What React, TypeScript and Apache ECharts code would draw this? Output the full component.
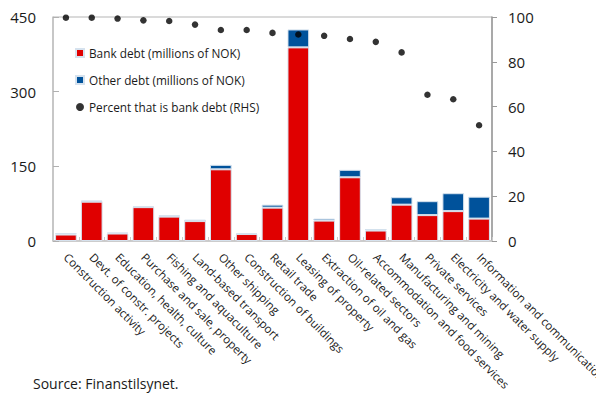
import React, { useEffect, useRef } from "react";
import * as echarts from "echarts";

const categories = [
  "Construction activity",
  "Devt. of constr. projects",
  "Education, health, culture",
  "Purchase and sale, property",
  "Fishing and aquaculture",
  "Land-based transport",
  "Other shipping",
  "Construction of buildings",
  "Retail trade",
  "Leasing of property",
  "Extraction of oil and gas",
  "Oil-related sectors",
  "Accommodation and food services",
  "Manufacturing and mining",
  "Private services",
  "Electricity and water supply",
  "Information and communication",
];
const bankDebt = [13, 79, 15, 68, 49, 40, 144, 14, 67, 389, 41, 128, 21, 73, 52, 60, 45];
const otherDebt = [2.5, 2.5, 2, 2, 2.5, 3, 9, 2, 6, 36, 4, 15, 3, 15, 28, 36, 44];
const percentBank = [99.7, 99.7, 99.3, 98.5, 98.2, 96.6, 94.2, 94.2, 92.9, 92.2, 91.6, 90.2, 88.9, 84.2, 65.3, 63.3, 51.7];
const leftTicks = { min: 0, max: 450, interval: 150 };
const rightTicks = { min: 0, max: 100, interval: 20 };

const FONT = "'Open Sans', 'Noto Sans', sans-serif";

export default function App() {
  const ref = useRef<HTMLDivElement>(null);
  useEffect(() => {
    if (!ref.current) return;
    const chart = echarts.init(ref.current, undefined, { renderer: "svg" });
    chart.setOption({
      animation: false,
      textStyle: { fontFamily: FONT, color: "#1a1a1a" },
      grid: {
        left: 53,
        right: 104,
        top: 17,
        bottom: 153,
        containLabel: false,
        outerBoundsMode: "none",
        show: true,
        borderColor: "#b5b5b5",
        borderWidth: 1,
      },
      legend: {
        orient: "vertical",
        left: 70,
        top: 41,
        itemWidth: 8,
        itemHeight: 8,
        itemGap: 13,
        textStyle: { fontFamily: FONT, fontSize: 11.8, color: "#1a1a1a", lineHeight: 14 },
        data: [
          { name: "Bank debt (millions of NOK)", icon: "rect" },
          { name: "Other debt (millions of NOK)", icon: "rect" },
          { name: "Percent that is bank debt (RHS)", icon: "circle" },
        ],
      },
      xAxis: {
        type: "category",
        data: categories,
        axisLine: { show: true, lineStyle: { color: "#c8c8c8", width: 1.5 } },
        axisTick: { show: true, inside: true, length: 4, lineStyle: { color: "#c8c8c8" } },
        axisLabel: {
          rotate: -45,
          interval: 0,
          margin: 14,
          fontFamily: FONT,
          fontSize: 11.6,
          color: "#1a1a1a",
        },
      },
      yAxis: [
        {
          type: "value",
          ...leftTicks,
          splitLine: { show: false },
          axisLine: { show: true, lineStyle: { color: "#c0c0c0", width: 1.5 } },
          axisTick: { show: true, inside: true, length: 6, lineStyle: { color: "#b0b0b0" } },
          axisLabel: { margin: 17, fontFamily: FONT, fontSize: 15, color: "#1a1a1a" },
        },
        {
          type: "value",
          ...rightTicks,
          position: "right",
          splitLine: { show: false },
          axisLine: { show: true, lineStyle: { color: "#999999", width: 1.5 } },
          axisTick: { show: true, inside: false, length: 5, lineStyle: { color: "#999999" } },
          axisLabel: { margin: 16, fontFamily: FONT, fontSize: 15, color: "#1a1a1a" },
        },
      ],
      series: [
        {
          name: "Bank debt (millions of NOK)",
          type: "bar",
          stack: "debt",
          data: bankDebt,
          barCategoryGap: "16%",
          itemStyle: { color: "#e00000", borderColor: "#d6e2ee", borderWidth: 1 },
        },
        {
          name: "Other debt (millions of NOK)",
          type: "bar",
          stack: "debt",
          data: otherDebt,
          barCategoryGap: "16%",
          itemStyle: { color: "#00529b", borderColor: "#d6e2ee", borderWidth: 1 },
        },
        {
          name: "Percent that is bank debt (RHS)",
          type: "scatter",
          yAxisIndex: 1,
          data: percentBank,
          symbolSize: 6.5,
          itemStyle: { color: "#000000" },
          z: 5,
        },
      ],
      graphic: [
        {
          type: "text",
          left: 33,
          top: 376,
          style: { text: "Source: Finanstilsynet.", fontFamily: FONT, fontSize: 14, fill: "#1a1a1a" },
        },
      ],
    });
    return () => chart.dispose();
  }, []);
  return (
    <div
      ref={ref}
      style={{ position: "fixed", left: 0, top: 0, width: 596, height: 394, background: "#fff" }}
    />
  );
}
